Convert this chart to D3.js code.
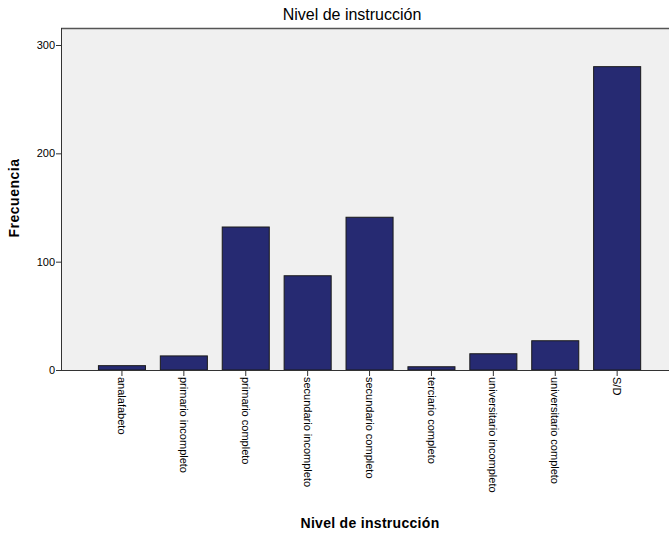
<!DOCTYPE html>
<html>
<head>
<meta charset="utf-8">
<title>Nivel de instrucción</title>
<script src="https://d3js.org/d3.v7.min.js"></script>
<style>
  body { margin: 0; background: #fff; }
  svg text { font-family: "Liberation Sans", Arial, sans-serif; fill: #000; }
  .axis path, .axis line { stroke: #333; }
</style>
</head>
<body>
<svg id="chart" width="670" height="535"></svg>
<script>
var categorias = ["analafabeto", "primario incompleto", "primario completo", "secundario incompleto",
                  "secundario completo", "terciario completo", "universitario incompleto",
                  "universitario completo", "S/D"];
var frecuencias = [4, 13, 132, 87, 141, 3, 15, 27, 280];
var ticksY = [0, 100, 200, 300];

var svg = d3.select("#chart"),
    margin = {top: 28, right: 1, bottom: 165, left: 61},
    width = 670 - margin.left - margin.right,
    height = 535 - margin.top - margin.bottom;

var g = svg.append("g")
    .attr("transform", "translate(" + margin.left + "," + margin.top + ")");

var x = d3.scaleBand().domain(categorias)
    .range([30, 30 + 9 * 61.9]).paddingInner(0.24).paddingOuter(0.12);
var y = d3.scaleLinear().domain([0, 300]).range([height, height - 325]);

// fondo del área de gráfico
g.append("rect")
    .attr("width", width).attr("height", height)
    .attr("fill", "#f0f0f0");
g.append("line").attr("x1", 0).attr("x2", width).attr("y1", 0.5).attr("y2", 0.5)
    .attr("stroke", "#555").attr("stroke-width", 1.5);

g.selectAll(".bar")
  .data(frecuencias)
  .enter().append("rect")
    .attr("class", "bar")
    .attr("x", function(d, i) { return x(categorias[i]); })
    .attr("y", function(d) { return y(d); })
    .attr("width", x.bandwidth())
    .attr("height", function(d) { return height - y(d); })
    .attr("fill", "#262a72")
    .attr("stroke", "#1a1a1a")
    .attr("stroke-width", 1);

g.append("g")
    .attr("class", "axis")
    .call(d3.axisLeft(y).tickValues(ticksY).tickSize(5).tickSizeOuter(0))
    .call(function(s) { s.select(".domain").attr("d", "M0.5,0V" + height); })
    .selectAll("text").style("font-size", "11px").attr("fill", "#000").attr("dx", "2px");

var ax = g.append("g")
    .attr("class", "axis")
    .attr("transform", "translate(0," + height + ")")
    .call(d3.axisBottom(x).tickSize(6).tickSizeOuter(0));
ax.select(".domain").attr("d", "M0,0.5H" + width);
ax.selectAll("text")
    .style("font-size", "11px")
    .attr("fill", "#000")
    .attr("text-anchor", "start")
    .attr("transform", "rotate(90)")
    .attr("x", 7).attr("y", 0).attr("dy", "0.35em");

svg.append("text")
    .attr("x", 352).attr("y", 20)
    .attr("text-anchor", "middle")
    .style("font-size", "16px")
    .style("font-weight", "500")
    .text("Nivel de instrucción");

svg.append("text")
    .attr("x", 370).attr("y", 528)
    .attr("text-anchor", "middle")
    .style("font-size", "14px").style("font-weight", "bold")
    .style("letter-spacing", "0.3px")
    .text("Nivel de instrucción");

svg.append("text")
    .attr("transform", "translate(19,198) rotate(-90)")
    .attr("text-anchor", "middle")
    .style("font-size", "14px").style("font-weight", "bold")
    .style("letter-spacing", "0.5px")
    .text("Frecuencia");
</script>
</body>
</html>
